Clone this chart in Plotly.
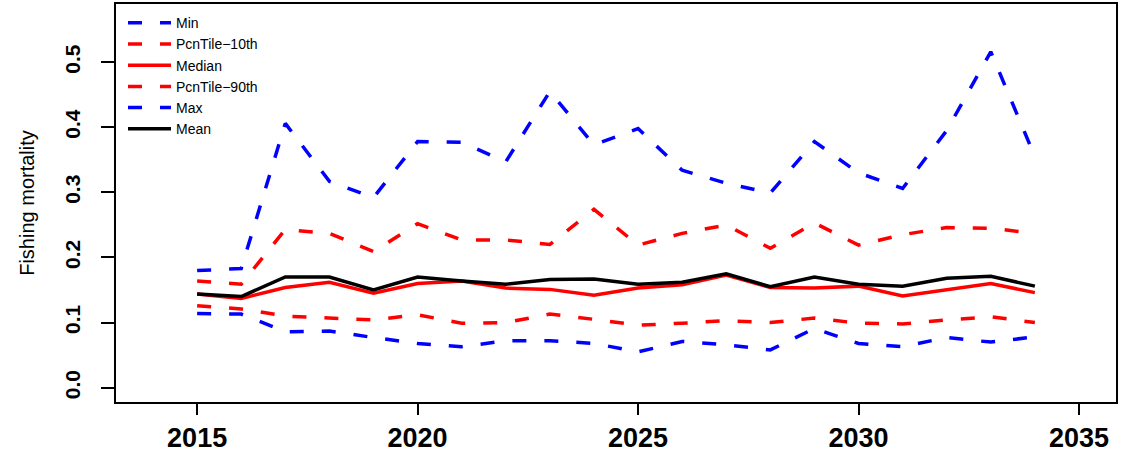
import plotly.graph_objects as go

years = list(range(2015, 2035))

min_vals = [0.114, 0.113, 0.086, 0.087, 0.077, 0.068, 0.063, 0.072, 0.072, 0.068,
            0.055, 0.071, 0.066, 0.058, 0.091, 0.068, 0.063, 0.077, 0.070, 0.078]
p10_vals = [0.126, 0.121, 0.110, 0.107, 0.104, 0.112, 0.099, 0.100, 0.113, 0.105,
            0.096, 0.099, 0.103, 0.100, 0.107, 0.099, 0.098, 0.104, 0.109, 0.100]
median_vals = [0.144, 0.137, 0.154, 0.162, 0.145, 0.160, 0.164, 0.153, 0.151, 0.142,
               0.153, 0.158, 0.173, 0.154, 0.153, 0.156, 0.141, 0.151, 0.160, 0.146]
p90_vals = [0.164, 0.159, 0.243, 0.237, 0.209, 0.252, 0.227, 0.227, 0.220, 0.274,
            0.219, 0.237, 0.250, 0.214, 0.253, 0.219, 0.235, 0.246, 0.245, 0.237]
max_vals = [0.180, 0.183, 0.406, 0.317, 0.292, 0.378, 0.377, 0.347, 0.455, 0.373,
            0.398, 0.334, 0.314, 0.299, 0.378, 0.330, 0.306, 0.395, 0.516, 0.355]
mean_vals = [0.144, 0.140, 0.170, 0.170, 0.150, 0.170, 0.164, 0.159, 0.166, 0.167,
             0.159, 0.162, 0.175, 0.155, 0.170, 0.159, 0.156, 0.168, 0.171, 0.156]

x_ticks = [2015, 2020, 2025, 2030, 2035]
y_ticks = [0.0, 0.1, 0.2, 0.3, 0.4, 0.5]

series = [
    ("Min", min_vals, "#0000FF", True),
    ("PcnTile\u221210th", p10_vals, "#FF0000", True),
    ("Median", median_vals, "#FF0000", False),
    ("PcnTile\u221290th", p90_vals, "#FF0000", True),
    ("Max", max_vals, "#0000FF", True),
    ("Mean", mean_vals, "#000000", False),
]

FONT = "Liberation Sans, Arial, Helvetica, sans-serif"

fig = go.Figure()
for name, vals, color, dashed in series:
    fig.add_trace(go.Scatter(
        x=years, y=vals, mode="lines", name=name,
        line=dict(color=color, width=3.5, dash="14px,18px" if dashed else "solid"),
    ))

fig.update_layout(
    width=1129, height=466,
    margin=dict(l=116, r=13, t=4, b=64, autoexpand=False),
    paper_bgcolor="white", plot_bgcolor="white",
    font=dict(family=FONT, color="black"),
    showlegend=True,
    legend=dict(
        x=0.007, y=0.992, xanchor="left", yanchor="top",
        bgcolor="rgba(0,0,0,0)", borderwidth=0,
        font=dict(family=FONT, size=14, color="black"),
        itemwidth=43,
    ),
    xaxis=dict(
        range=[2013.16, 2035.84], tickvals=x_ticks, ticktext=[str(v) for v in x_ticks],
        showgrid=False, zeroline=False, showline=True, linecolor="black", linewidth=2,
        mirror=True, ticks="outside", ticklen=11, tickwidth=1.5, tickcolor="black",
        tickfont=dict(family=FONT, size=27, color="black", weight="bold"),
        ticklabelstandoff=0, automargin=False,
    ),
    yaxis=dict(
        range=[-0.022, 0.5894], tickvals=y_ticks, ticktext=[f"{v:.1f}" for v in y_ticks],
        showgrid=False, zeroline=False, showline=True, linecolor="black", linewidth=2,
        mirror=True, ticks="outside", ticklen=13, tickwidth=1.5, tickcolor="black",
        tickangle=-90,
        tickfont=dict(family=FONT, size=21, color="black", weight="bold"),
        ticklabelstandoff=13, automargin=False,
        title=dict(text="Fishing mortality", font=dict(family=FONT, size=20, color="black"),
                   standoff=21),
    ),
)

fig.write_html("out.html", post_script="document.body.style.margin='0';",
               config={"displayModeBar": False})
